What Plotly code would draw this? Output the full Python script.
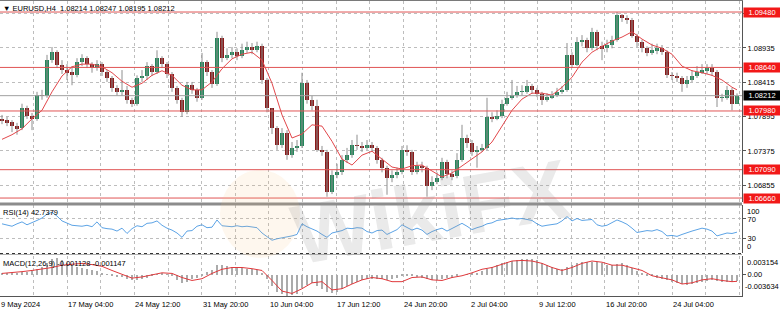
import plotly.graph_objects as go

FONT = "Liberation Sans, Arial, DejaVu Sans, sans-serif"

# ---------------- data ----------------
first_open = 1.0786
closes = [1.0784, 1.0781, 1.0775, 1.0772, 1.0802, 1.0790, 1.0786, 1.0822, 1.0821, 1.0875,
          1.0887, 1.0868, 1.0860, 1.0857, 1.0852, 1.0872, 1.0878, 1.0869, 1.0863, 1.0869,
          1.0857, 1.0848, 1.0833, 1.0827, 1.0830, 1.0815, 1.0809, 1.0848, 1.0851, 1.0866,
          1.0857, 1.0878, 1.0869, 1.0854, 1.0833, 1.0815, 1.0796, 1.0837, 1.0830, 1.0818,
          1.0872, 1.0857, 1.0839, 1.0909, 1.0878, 1.0883, 1.0887, 1.0881, 1.0890, 1.0895,
          1.0890, 1.0896, 1.0845, 1.0802, 1.0772, 1.0746, 1.0765, 1.0731, 1.0742, 1.0745,
          1.0840, 1.0815, 1.0806, 1.0739, 1.0736, 1.0675, 1.0701, 1.0705, 1.0724, 1.0731,
          1.0746, 1.0745, 1.0742, 1.0746, 1.0742, 1.0724, 1.0712, 1.0696, 1.0701, 1.0705,
          1.0739, 1.0736, 1.0705, 1.0715, 1.0712, 1.0684, 1.0690, 1.0696, 1.0721, 1.0702,
          1.0699, 1.0724, 1.0757, 1.0749, 1.0736, 1.0739, 1.0742, 1.0789, 1.0787, 1.0790,
          1.0809, 1.0818, 1.0822, 1.0827, 1.0827, 1.0836, 1.0830, 1.0824, 1.0815, 1.0819,
          1.0822, 1.0827, 1.0830, 1.0883, 1.0868, 1.0903, 1.0906, 1.0893, 1.0918, 1.0896,
          1.0893, 1.0898, 1.0906, 1.0943, 1.0939, 1.0936, 1.0912, 1.0903, 1.0893, 1.0886,
          1.0890, 1.0893, 1.0887, 1.0852, 1.0851, 1.0848, 1.0839, 1.0845, 1.0851, 1.0857,
          1.0860, 1.0863, 1.0857, 1.0818, 1.0818, 1.0830, 1.0809, 1.08212]
highs = [1.0792, 1.0789, 1.0784, 1.0780, 1.0809, 1.0806, 1.0795, 1.0827, 1.0830, 1.0883,
         1.0895, 1.0890, 1.0875, 1.0869, 1.0866, 1.0878, 1.0884, 1.0881, 1.0872, 1.0875,
         1.0872, 1.0860, 1.0851, 1.0837, 1.0860, 1.0836, 1.0818, 1.0852, 1.0860, 1.0872,
         1.0869, 1.0890, 1.0881, 1.0872, 1.0857, 1.0836, 1.0818, 1.0842, 1.0842, 1.0833,
         1.0886, 1.0875, 1.0860, 1.0918, 1.0912, 1.0893, 1.0895, 1.0893, 1.0900, 1.0903,
         1.0901, 1.0903, 1.0900, 1.0848, 1.0781, 1.0775, 1.0772, 1.0769, 1.0751, 1.0754,
         1.0856, 1.0845, 1.0821, 1.0815, 1.0745, 1.0739, 1.0708, 1.0718, 1.0731, 1.0742,
         1.0754, 1.0762, 1.0751, 1.0754, 1.0751, 1.0745, 1.0727, 1.0715, 1.0708, 1.0712,
         1.0745, 1.0746, 1.0739, 1.0721, 1.0721, 1.0715, 1.0699, 1.0705, 1.0727, 1.0724,
         1.0708, 1.0734, 1.0777, 1.0762, 1.0754, 1.0745, 1.0748, 1.0818, 1.0796, 1.0799,
         1.0815, 1.0827, 1.0845, 1.0836, 1.0837, 1.0845, 1.0839, 1.0833, 1.0827, 1.0825,
         1.0828, 1.0833, 1.0836, 1.0901, 1.0887, 1.0910, 1.0913, 1.0909, 1.0924, 1.0921,
         1.0903, 1.0906, 1.0912, 1.0948, 1.0945, 1.0943, 1.0939, 1.0915, 1.0906, 1.0896,
         1.0900, 1.0900, 1.0898, 1.0890, 1.0857, 1.0856, 1.0851, 1.0851, 1.0860, 1.0866,
         1.0869, 1.0869, 1.0869, 1.0860, 1.0824, 1.0836, 1.0833, 1.08247]
lows = [1.0778, 1.0775, 1.0766, 1.0762, 1.0769, 1.0786, 1.0769, 1.0783, 1.0815, 1.0818,
        1.0871, 1.0863, 1.0854, 1.0845, 1.0837, 1.0849, 1.0866, 1.0863, 1.0856, 1.0859,
        1.0851, 1.0842, 1.0827, 1.0821, 1.0821, 1.0809, 1.0804, 1.0806, 1.0842, 1.0845,
        1.0851, 1.0854, 1.0863, 1.0848, 1.0827, 1.0809, 1.0789, 1.0793, 1.0824, 1.0812,
        1.0815, 1.0851, 1.0833, 1.0836, 1.0872, 1.0875, 1.0878, 1.0875, 1.0878, 1.0886,
        1.0884, 1.0887, 1.0839, 1.0796, 1.0763, 1.0739, 1.0742, 1.0724, 1.0727, 1.0736,
        1.0742, 1.0809, 1.0799, 1.0736, 1.0730, 1.0668, 1.0672, 1.0696, 1.0701, 1.0719,
        1.0727, 1.0739, 1.0736, 1.0739, 1.0736, 1.0718, 1.0705, 1.0671, 1.0690, 1.0696,
        1.0702, 1.0730, 1.0701, 1.0702, 1.0705, 1.0668, 1.0678, 1.0687, 1.0693, 1.0696,
        1.0693, 1.0696, 1.0721, 1.0742, 1.0730, 1.0712, 1.0736, 1.0739, 1.0781, 1.0784,
        1.0787, 1.0806, 1.0815, 1.0818, 1.0821, 1.0824, 1.0824, 1.0819, 1.0807, 1.0812,
        1.0816, 1.0819, 1.0824, 1.0827, 1.0863, 1.0866, 1.0896, 1.0887, 1.0890, 1.0890,
        1.0875, 1.0887, 1.0893, 1.0903, 1.0933, 1.0930, 1.0909, 1.0895, 1.0887, 1.0881,
        1.0883, 1.0884, 1.0883, 1.0848, 1.0845, 1.0842, 1.0827, 1.0833, 1.0842, 1.0848,
        1.0854, 1.0854, 1.0851, 1.0804, 1.0812, 1.0815, 1.0799, 1.08195]

# moving average, read every second bar (plus last bar)
ma_vals = [1.0755, 1.0762, 1.0771, 1.0786, 1.0799, 1.0827, 1.0851, 1.0865, 1.0869, 1.0869,
           1.0865, 1.0856, 1.0843, 1.0834, 1.0840, 1.0852, 1.0859, 1.0852, 1.0837, 1.0830,
           1.0830, 1.0842, 1.0862, 1.0877, 1.0884, 1.0887, 1.0875, 1.0840, 1.0792, 1.0757,
           1.0763, 1.0777, 1.0775, 1.0752, 1.0725, 1.0716, 1.0731, 1.0737, 1.0725, 1.0713,
           1.0710, 1.0715, 1.0716, 1.0707, 1.0698, 1.0704, 1.0715, 1.0725, 1.0736, 1.0751,
           1.0774, 1.0799, 1.0816, 1.0825, 1.0825, 1.0822, 1.0834, 1.0849, 1.0872, 1.0887,
           1.0896, 1.0904, 1.0910, 1.0918, 1.0907, 1.0898, 1.0893, 1.0884, 1.0866, 1.0859,
           1.0856, 1.0852, 1.0845, 1.0834, 1.0830]

rsi_vals = [60, 57, 55, 60, 64, 58, 62, 67, 72, 80, 84, 76, 66, 62, 57, 56, 55, 57, 54, 64,
            52, 50, 49, 45, 51, 40, 50, 56, 54, 61, 62, 66, 57, 51, 47, 41, 32, 45, 46, 55,
            58, 52, 53, 68, 56, 55, 54, 56, 54, 55, 53, 52, 41, 33, 26, 29, 31, 32, 35, 38,
            60, 54, 50, 45, 38, 32, 41, 43, 46, 51, 50, 52, 51, 44, 41, 46, 47, 38, 43, 48,
            58, 53, 47, 51, 47, 38, 44, 48, 51, 45, 50, 56, 61, 55, 48, 52, 55, 60, 62, 67,
            68, 70, 72, 70, 71, 69, 67, 60, 55, 57, 58, 60, 66, 75, 66, 71, 67, 68, 69, 58,
            55, 57, 63, 68, 64, 59, 51, 42, 44, 46, 45, 48, 44, 35, 36, 34, 38, 42, 45, 48,
            51, 49, 45, 35, 38, 41, 40, 42.7379]

macd_vals = [0.0003, 0.0003, 0.0002, 0.0003, 0.0005, 0.0005, 0.0006, 0.0010, 0.0013, 0.0020,
             0.0026, 0.0028, 0.0025, 0.0020, 0.0015, 0.0013, 0.0011, 0.0009, 0.0007, 0.0006,
             0.0003, 0.0001, -0.0002, -0.0004, -0.0004, -0.0007, -0.0010, -0.0009, -0.0008, -0.0005,
             -0.0002, 0.0001, 0.0002, 0.0001, -0.0003, -0.0010, -0.0014, -0.0012, -0.0008, -0.0006,
             -0.0001, 0.0004, 0.0008, 0.0016, 0.0017, 0.0015, 0.0013, 0.0012, 0.0011, 0.0010,
             0.0009, 0.0008, 0.0002, -0.0008, -0.0020, -0.0030, -0.0033, -0.0036, -0.0035, -0.0033,
             -0.0022, -0.0017, -0.0015, -0.0020, -0.0025, -0.0030, -0.0031, -0.0029, -0.0025, -0.0020,
             -0.0016, -0.0012, -0.0010, -0.0008, -0.0007, -0.0007, -0.0008, -0.0009, -0.0008, -0.0006,
             -0.0003, -0.0002, -0.0003, -0.0004, -0.0005, -0.0008, -0.0009, -0.0009, -0.0007, -0.0006,
             -0.0005, -0.0003, 0.0000, 0.0001, 0.0002, 0.0003, 0.0006, 0.0010, 0.0013, 0.0016,
             0.0019, 0.0021, 0.0023, 0.0025, 0.0026, 0.0027, 0.0026, 0.0024, 0.0020, 0.0016,
             0.0013, 0.0010, 0.0009, 0.0013, 0.0016, 0.0019, 0.0021, 0.0021, 0.0022, 0.0021,
             0.0019, 0.0017, 0.0016, 0.0018, 0.0019, 0.0016, 0.0011, 0.0006, 0.0002, -0.0001,
             -0.0003, -0.0005, -0.0007, -0.0010, -0.0012, -0.0014, -0.0016, -0.0017, -0.0016, -0.0015,
             -0.0013, -0.0011, -0.0010, -0.0011, -0.0012, -0.0012, -0.0012, -0.001128]

signal_vals = [0.0002, 0.0003, 0.0005, 0.0007, 0.0009, 0.0012, 0.0016, 0.0018, 0.0019, 0.0017,
               0.0014, 0.0007, 0.0000, -0.0006, -0.0004, 0.0000, 0.0003, 0.0002, -0.0005, -0.0010,
               -0.0007, 0.0002, 0.0009, 0.0012, 0.0012, 0.0010, 0.0007, -0.0010, -0.0028, -0.0032,
               -0.0024, -0.0014, -0.0012, -0.0026, -0.0024, -0.0016, -0.0009, -0.0005, -0.0007, -0.0012,
               -0.0012, -0.0005, -0.0004, -0.0009, -0.0010, -0.0005, -0.0002, 0.0003, 0.0009, 0.0012,
               0.0017, 0.0023, 0.0024, 0.0023, 0.0019, 0.0012, 0.0007, 0.0012, 0.0019, 0.0023,
               0.0021, 0.0016, 0.0016, 0.0012, 0.0007, -0.0002, -0.0005, -0.0009, -0.0016, -0.0014,
               -0.0009, -0.0007, -0.0010, -0.0012, -0.001147]

red_levels = [1.09480, 1.08640, 1.07980, 1.07090, 1.06660]
bid_level = 1.08212
price_ticks = [1.06855, 1.07375, 1.07895, 1.08415, 1.08935, 1.09455]
time_labels = ["9 May 2024", "17 May 04:00", "24 May 12:00", "31 May 20:00", "10 Jun 04:00",
               "17 Jun 12:00", "24 Jun 20:00", "2 Jul 04:00", "9 Jul 12:00", "16 Jul 20:00",
               "24 Jul 04:00"]
title_text = "EURUSD,H4\u00a0\u00a01.08214 1.08247 1.08195 1.08212"
rsi_text = "RSI(14) 42.7379"
macd_text = "MACD(12,26,9) -0.001128 -0.001147"

# ---------------- derived ----------------
n = len(closes)
idx = list(range(n))
opens = [first_open] + closes[:-1]
sub_idx = list(range(0, n, 2)) + [n - 1]

GREEN = "#23875a"
RED = "#8a1a1a"
body_base = [min(o, c) for o, c in zip(opens, closes)]
body_h = [max(abs(c - o), 0.00003) for o, c in zip(opens, closes)]
body_col = [GREEN if c >= o else RED for o, c in zip(opens, closes)]

wx, wy = [], []
for i in idx:
    wx += [i, i, None]
    wy += [min(lows[i], opens[i], closes[i]), max(highs[i], opens[i], closes[i]), None]

grid_x = [6.72 * k - 0.4 for k in range(23)]
label_x = [grid_x[2 * j] for j in range(len(time_labels))]

fig = go.Figure()
fig.add_trace(go.Scatter(x=wx, y=wy, mode="lines", line=dict(color="#8e8e8e", width=1),
                         xaxis="x", yaxis="y", hoverinfo="skip"))
fig.add_trace(go.Bar(x=idx, y=body_h, base=body_base, width=0.64,
                     marker=dict(color=body_col, line=dict(width=0)), xaxis="x", yaxis="y"))
fig.add_trace(go.Scatter(x=sub_idx, y=ma_vals, mode="lines", line=dict(color="#e2474b", width=1),
                         xaxis="x", yaxis="y"))
fig.add_trace(go.Scatter(x=idx, y=rsi_vals, mode="lines", line=dict(color="#4a98e2", width=0.9),
                         xaxis="x2", yaxis="y2"))
fig.add_trace(go.Bar(x=idx, y=macd_vals, width=0.5, marker=dict(color="#ababab", line=dict(width=0)),
                     xaxis="x3", yaxis="y3"))
fig.add_trace(go.Scatter(x=sub_idx, y=signal_vals, mode="lines", line=dict(color="#e0393c", width=1),
                         xaxis="x3", yaxis="y3"))

H_PLOT = 295.0
def pf(p):  # pixel row -> paper fraction
    return 1 - (p - 1) / H_PLOT

xcommon = dict(range=[-0.4, 148.0], tickvals=grid_x, showticklabels=False, showgrid=True,
               griddash="dot", gridcolor="#bdbdbd", gridwidth=1, zeroline=False, ticks="",
               fixedrange=True)
tickfont = dict(size=7.5, color="#000000", family=FONT)
ycommon = dict(side="right", showline=True, linecolor="#555555", linewidth=1, ticks="outside",
               ticklen=3, tickcolor="#555555", tickfont=tickfont, zeroline=False, fixedrange=True)

shapes = []
for lv in red_levels:
    shapes.append(dict(type="line", xref="paper", x0=0, x1=1, yref="y", y0=lv, y1=lv,
                       line=dict(color="#e05555", width=1)))
shapes.append(dict(type="line", xref="paper", x0=0, x1=1, yref="y", y0=bid_level, y1=bid_level,
                   line=dict(color="#a0a0a0", width=1)))
# panel separators
shapes.append(dict(type="rect", xref="paper", x0=0, x1=1, yref="paper", y0=pf(205.5), y1=pf(202.5),
                   fillcolor="#8c8c8c", line=dict(width=0)))
shapes.append(dict(type="line", xref="paper", x0=0, x1=1, yref="paper", y0=pf(253.5), y1=pf(253.5),
                   line=dict(color="#333333", width=1, dash="dot")))
shapes.append(dict(type="line", xref="paper", x0=0, x1=1, yref="paper", y0=pf(254.5), y1=pf(254.5),
                   line=dict(color="#b0b0b0", width=1)))
# watermark logo blob
shapes.append(dict(type="circle", xref="paper", yref="paper", x0=220 / 742, x1=300 / 742,
                   y0=pf(258), y1=pf(170), fillcolor="rgba(245,190,120,0.13)", line=dict(width=0),
                   layer="above"))

ann = []
ann.append(dict(text="\u25bc " + title_text, xref="paper", x=0, xanchor="left", xshift=1,
                yref="paper", y=1, yanchor="top", yshift=-1, showarrow=False,
                font=dict(size=7.5, color="#000000", family=FONT)))
ann.append(dict(text=rsi_text, xref="paper", x=0, xanchor="left", xshift=1,
                yref="y2 domain", y=1, yanchor="top", yshift=-1, showarrow=False,
                font=dict(size=7.5, color="#000000", family=FONT)))
ann.append(dict(text=macd_text, xref="paper", x=0, xanchor="left", xshift=1,
                yref="y3 domain", y=1, yanchor="top", yshift=-1, showarrow=False,
                font=dict(size=7.5, color="#000000", family=FONT)))
for txt, yy, anc in [("100", 1, "top"), ("0", 0, "bottom")]:
    ann.append(dict(text=txt, xref="paper", x=1, xanchor="left", xshift=3, yref="y2 domain", y=yy,
                    yanchor=anc, showarrow=False, font=tickfont))
ann.append(dict(text="0.003154", xref="paper", x=1, xanchor="left", xshift=3, yref="y3 domain", y=1,
                yanchor="top", showarrow=False, font=tickfont))
ann.append(dict(text="-0.003634", xref="paper", x=1, xanchor="left", xshift=1, yref="y3 domain", y=0,
                yanchor="bottom", yshift=3, showarrow=False, font=tickfont))
for lv in red_levels:
    ann.append(dict(text=f"{lv:.5f}", xref="paper", x=1, xanchor="left", xshift=1, yref="y", y=lv,
                    yanchor="middle", showarrow=False, bgcolor="#f21818", width=35, height=8,
                    borderpad=0.5, font=dict(size=7.5, color="#ffffff", family=FONT)))
ann.append(dict(text=f"{bid_level:.5f}", xref="paper", x=1, xanchor="left", xshift=1, yref="y",
                y=bid_level, yanchor="middle", showarrow=False, bgcolor="#000000", width=35, height=8,
                borderpad=0.5, font=dict(size=7.5, color="#ffffff", family=FONT)))
for lx, lt in zip(label_x, time_labels):
    ann.append(dict(text=lt, xref="x3", x=lx, xanchor="left", xshift=-1, yref="paper", y=0,
                    yanchor="top", yshift=-2, showarrow=False, font=tickfont))
ann.append(dict(text="<b>WikiFX</b>", xref="paper", x=430 / 742, xanchor="center",
                yref="paper", y=pf(212), yanchor="middle",
                showarrow=False, textangle=-10,
                font=dict(size=84, color="rgba(150,150,150,0.2)", family=FONT)))

fig.update_layout(
    width=780, height=311,
    margin=dict(l=0, r=38, t=1, b=15),
    paper_bgcolor="#ffffff", plot_bgcolor="#ffffff",
    showlegend=False, barmode="overlay", bargap=0,
    xaxis=dict(**xcommon, anchor="y", side="top", showline=True, linecolor="#7a7a7a", linewidth=1),
    xaxis2=dict(**xcommon, anchor="y2", matches="x"),
    xaxis3=dict(**xcommon, anchor="y3", matches="x", showline=True, linecolor="#555555", linewidth=1),
    yaxis=dict(**ycommon, domain=[pf(202), 1], range=[1.06600, 1.09647], tickvals=price_ticks,
               ticktext=[f"{v:.5f}" for v in price_ticks], showgrid=True, griddash="dot",
               gridcolor="#bdbdbd"),
    yaxis2=dict(**ycommon, domain=[pf(252.8), pf(204.5)], range=[0, 100], tickvals=[30, 70],
                ticktext=["30", "70"], showgrid=True, griddash="dot", gridcolor="#bdbdbd"),
    yaxis3=dict(**ycommon, domain=[0, pf(256)], range=[-0.003634, 0.003154], tickvals=[0],
                ticktext=["0.00"], showgrid=False),
    shapes=shapes, annotations=ann,
)

fig.write_html("out.html")
